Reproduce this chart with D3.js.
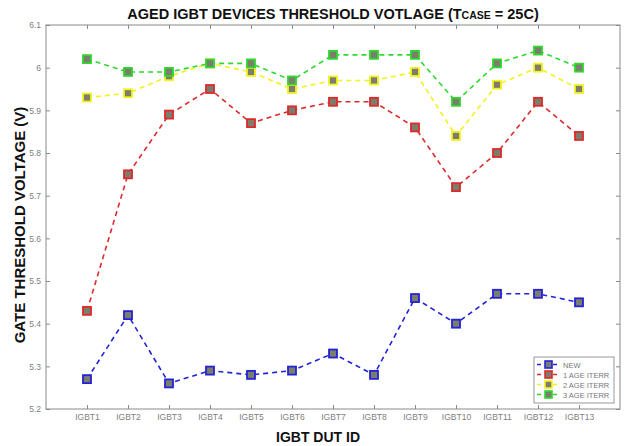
<!DOCTYPE html>
<html><head><meta charset="utf-8">
<script src="https://cdn.jsdelivr.net/npm/d3@7"></script>
<style>body{margin:0;background:#fff;} svg{display:block;font-family:Arial,"Liberation Sans",sans-serif;}</style>
</head><body>
<svg id="c" width="625" height="446"></svg>
<script>
const categories = ["IGBT1","IGBT2","IGBT3","IGBT4","IGBT5","IGBT6","IGBT7","IGBT8","IGBT9","IGBT10","IGBT11","IGBT12","IGBT13"];
const seriesNames = ["NEW","1 AGE ITERR","2 AGE ITERR","3 AGE ITERR"];
const newVals   = [5.27,5.42,5.26,5.29,5.28,5.29,5.33,5.28,5.46,5.40,5.47,5.47,5.45];
const age1Vals  = [5.43,5.75,5.89,5.95,5.87,5.90,5.92,5.92,5.86,5.72,5.80,5.92,5.84];
const age2Vals  = [5.93,5.94,5.98,6.01,5.99,5.95,5.97,5.97,5.99,5.84,5.96,6.00,5.95];
const age3Vals  = [6.02,5.99,5.99,6.01,6.01,5.97,6.03,6.03,6.03,5.92,6.01,6.04,6.00];
const yTicks = [5.2,5.3,5.4,5.5,5.6,5.7,5.8,5.9,6,6.1];
const colors = ["#2323d8","#dd2a2a","#f2f21c","#2fd82f"];

const series = [newVals, age1Vals, age2Vals, age3Vals];
const svg = d3.select("#c");
const L = 46, R = 620, T = 25, B = 409;
const x = d3.scaleLinear().domain([0,14]).range([L,R]);
const y = d3.scaleLinear().domain([5.2,6.1]).range([B,T]);
const axisCol = "#8a8a8a";

svg.append("rect").attr("x",L).attr("y",T).attr("width",R-L).attr("height",B-T)
  .attr("fill","none").attr("stroke",axisCol).attr("stroke-width",1);

const idx = d3.range(1, categories.length+1);
const gx = svg.append("g").attr("transform",`translate(0,${B})`)
  .call(d3.axisBottom(x).tickValues(idx).tickFormat(i=>categories[i-1]).tickSizeInner(-4).tickSizeOuter(0).tickPadding(5));
gx.select(".domain").remove();
gx.selectAll("line").attr("stroke",axisCol);
gx.selectAll("text").attr("fill","#808080").attr("font-size","8.5px");
const gxt = svg.append("g").attr("transform",`translate(0,${T})`)
  .call(d3.axisTop(x).tickValues(idx).tickFormat("").tickSizeInner(-4).tickSizeOuter(0));
gxt.select(".domain").remove();
gxt.selectAll("line").attr("stroke",axisCol);
const gy = svg.append("g").attr("transform",`translate(${L},0)`)
  .call(d3.axisLeft(y).tickValues(yTicks).tickFormat(d3.format("~g")).tickSizeInner(-4).tickSizeOuter(0).tickPadding(5));
gy.select(".domain").remove();
gy.selectAll("line").attr("stroke",axisCol);
gy.selectAll("text").attr("fill","#808080").attr("font-size","8.5px");
const gyr = svg.append("g").attr("transform",`translate(${R},0)`)
  .call(d3.axisRight(y).tickValues(yTicks).tickFormat("").tickSizeInner(-4).tickSizeOuter(0));
gyr.select(".domain").remove();
gyr.selectAll("line").attr("stroke",axisCol);

const line = d3.line().x((d,i)=>x(i+1)).y(d=>y(d));
series.forEach((vals,si)=>{
  svg.append("path").datum(vals).attr("d",line).attr("fill","none")
    .attr("stroke",colors[si]).attr("stroke-width",1.6).attr("stroke-dasharray","5,4");
  svg.append("g").selectAll("rect").data(vals).join("rect")
    .attr("x",(d,i)=>x(i+1)-4).attr("y",d=>y(d)-4).attr("width",8).attr("height",8)
    .attr("fill","#7d7d6e").attr("stroke",colors[si]).attr("stroke-width",1.8);
});

const title = svg.append("text").attr("x",(L+R)/2).attr("y",19).attr("text-anchor","middle")
  .attr("font-weight","bold").attr("font-size","14.5px").attr("fill","#111");
title.append("tspan").text("AGED IGBT DEVICES THRESHOLD VOTLAGE (T");
title.append("tspan").attr("font-size","10.5px").text("CASE");
title.append("tspan").text(" = 25C)");

svg.append("text").attr("x",318).attr("y",442).attr("text-anchor","middle")
  .attr("font-weight","bold").attr("font-size","14px").attr("fill","#111").text("IGBT DUT ID");
svg.append("text").attr("transform",`translate(25,225) rotate(-90)`).attr("text-anchor","middle")
  .attr("font-weight","bold").attr("font-size","15px").attr("fill","#111").text("GATE THRESHOLD VOLTAGE (V)");

const lg = svg.append("g");
lg.append("rect").attr("x",534).attr("y",357).attr("width",80).attr("height",46)
  .attr("fill","#fff").attr("stroke","#999").attr("stroke-width",1);
seriesNames.forEach((n,i)=>{
  const yy = 364.5 + i*10;
  lg.append("line").attr("x1",537).attr("x2",561).attr("y1",yy).attr("y2",yy)
    .attr("stroke",colors[i]).attr("stroke-width",1.6).attr("stroke-dasharray","4,4");
  lg.append("rect").attr("x",545).attr("y",yy-3.5).attr("width",7).attr("height",7)
    .attr("fill","#7d7d6e").attr("stroke",colors[i]).attr("stroke-width",1.6);
  lg.append("text").attr("x",563).attr("y",yy+3).attr("font-size","7.5px").attr("fill","#777").text(n);
});
</script>
</body></html>
